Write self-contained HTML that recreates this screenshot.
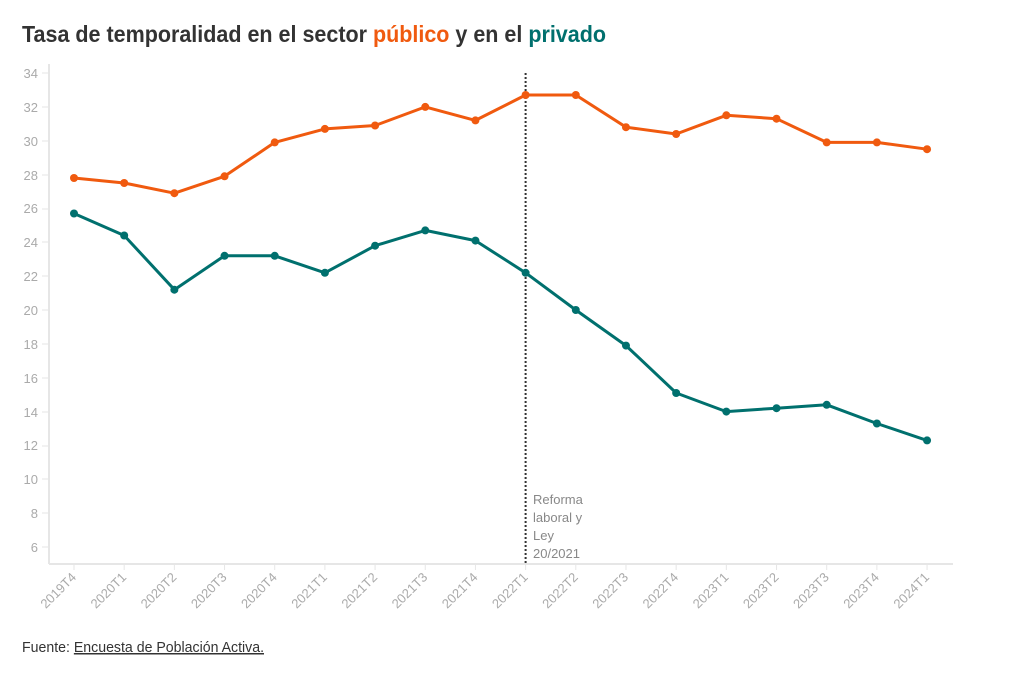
<!DOCTYPE html>
<html><head><meta charset="utf-8"><style>
body{margin:0;background:#fff;width:1024px;height:677px;overflow:hidden;font-family:"Liberation Sans",sans-serif}
</style></head><body>
<svg width="1024" height="677" xmlns="http://www.w3.org/2000/svg" font-family="'Liberation Sans',sans-serif">
<text x="22" y="42" font-size="23" font-weight="bold" fill="#333" textLength="584" lengthAdjust="spacingAndGlyphs">Tasa de temporalidad en el sector <tspan fill="#f05a0f">público</tspan> y en el <tspan fill="#00706e">privado</tspan></text>
<g stroke="#e6e6e6" stroke-width="2" fill="none">
<line x1="49" y1="564" x2="953" y2="564"/><line x1="49" y1="64" x2="49" y2="564"/>
</g>
<g font-size="13" fill="#aaa" text-anchor="end">
<text x="38" y="78">34</text><text x="38" y="112">32</text><text x="38" y="146">30</text><text x="38" y="180">28</text><text x="38" y="213">26</text><text x="38" y="247">24</text><text x="38" y="281">22</text><text x="38" y="315">20</text><text x="38" y="349">18</text><text x="38" y="383">16</text><text x="38" y="417">14</text><text x="38" y="450">12</text><text x="38" y="484">10</text><text x="38" y="518">8</text><text x="38" y="552">6</text>
</g>
<g stroke="#e6e6e6" stroke-width="1">
<line x1="42" y1="73" x2="49" y2="73"/><line x1="42" y1="107" x2="49" y2="107"/><line x1="42" y1="141" x2="49" y2="141"/><line x1="42" y1="175" x2="49" y2="175"/><line x1="42" y1="209" x2="49" y2="209"/><line x1="42" y1="242" x2="49" y2="242"/><line x1="42" y1="276" x2="49" y2="276"/><line x1="42" y1="310" x2="49" y2="310"/><line x1="42" y1="344" x2="49" y2="344"/><line x1="42" y1="378" x2="49" y2="378"/><line x1="42" y1="412" x2="49" y2="412"/><line x1="42" y1="446" x2="49" y2="446"/><line x1="42" y1="479" x2="49" y2="479"/><line x1="42" y1="513" x2="49" y2="513"/><line x1="42" y1="547" x2="49" y2="547"/>
</g>
<g id="xt" font-size="13" fill="#aaa" text-anchor="end"></g>
<line x1="525.6" y1="73" x2="525.6" y2="564" stroke="#333" stroke-width="2" stroke-dasharray="2,2"/>
<g font-size="13" fill="#888"><text x="533" y="504">Reforma</text><text x="533" y="522">laboral y</text><text x="533" y="540">Ley</text><text x="533" y="558">20/2021</text></g>
<polyline fill="none" stroke="#f05a0f" stroke-width="3" stroke-linejoin="round" points="74,178 124.2,183 174.4,193.2 224.5,176.3 274.7,142.4 324.9,128.9 375.1,125.5 425.3,106.9 475.4,120.4 525.6,95 575.8,95 626,127.2 676.2,134 726.3,115.3 776.5,118.7 826.7,142.4 876.9,142.4 927,149.2"/>
<polyline fill="none" stroke="#00706e" stroke-width="3" stroke-linejoin="round" points="74,213.5 124.2,235.5 174.4,289.7 224.5,255.8 274.7,255.8 324.9,272.8 375.1,245.7 425.3,230.4 475.4,240.6 525.6,272.8 575.8,310 626,345.6 676.2,393 726.3,411.6 776.5,408.2 826.7,404.8 876.9,423.5 927,440.4"/>
<g id="dots"></g>
<text x="22" y="652" font-size="15" fill="#333" textLength="242" lengthAdjust="spacingAndGlyphs">Fuente: <tspan text-decoration="underline">Encuesta de Población Activa.</tspan></text>
</svg>
<script>
var ns="http://www.w3.org/2000/svg";
var labs=["2019T4","2020T1","2020T2","2020T3","2020T4","2021T1","2021T2","2021T3","2021T4","2022T1","2022T2","2022T3","2022T4","2023T1","2023T2","2023T3","2023T4","2024T1"];
var o=[178,183,193.2,176.3,142.4,128.9,125.5,106.9,120.4,95,95,127.2,134,115.3,118.7,142.4,142.4,149.2];
var t=[213.5,235.5,289.7,255.8,255.8,272.8,245.7,230.4,240.6,272.8,310,345.6,393,411.6,408.2,404.8,423.5,440.4];
var xt=document.getElementById("xt"),d=document.getElementById("dots");
labs.forEach(function(l,i){var x=74+50.18*i;
var tx=document.createElementNS(ns,"text");tx.setAttribute("x",x+3);tx.setAttribute("y",578);tx.setAttribute("transform","rotate(-45 "+(x+3)+" 578)");tx.textContent=l;xt.appendChild(tx);
var tk=document.createElementNS(ns,"line");tk.setAttribute("x1",x);tk.setAttribute("x2",x);tk.setAttribute("y1",564);tk.setAttribute("y2",570);tk.setAttribute("stroke","#e6e6e6");xt.appendChild(tk);
[[o[i],"#f05a0f"],[t[i],"#00706e"]].forEach(function(p){var c=document.createElementNS(ns,"circle");c.setAttribute("cx",x);c.setAttribute("cy",p[0]);c.setAttribute("r",4);c.setAttribute("fill",p[1]);d.appendChild(c);});
});
</script>
</body></html>
